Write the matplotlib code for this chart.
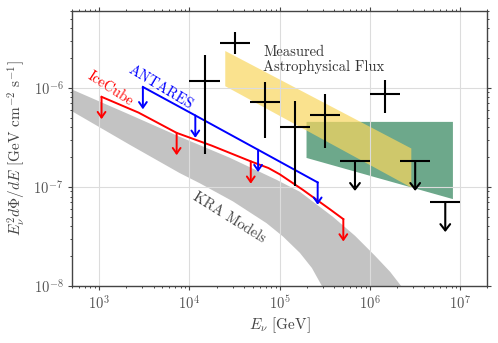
import numpy as np
import matplotlib
matplotlib.use('Agg')
import matplotlib.pyplot as plt

plt.rcParams.update({
    'font.family': 'serif',
    'font.serif': ['cmr10'],
    'mathtext.fontset': 'cm',
    'axes.formatter.use_mathtext': True,
    'axes.unicode_minus': False,
})

# ---- Measured astrophysical flux (binned) ----
meas_E    = [1.468e4, 3.162e4, 6.813e4, 1.468e5, 3.162e5, 1.468e6]
meas_Elo  = [1.0e4, 2.154e4, 4.642e4, 1.0e5, 2.154e5, 1.0e6]
meas_Ehi  = [2.154e4, 4.642e4, 1.0e5, 2.154e5, 4.642e5, 2.154e6]
meas_flux = [1.17e-6, 2.85e-6, 7.15e-7, 4.06e-7, 5.37e-7, 8.61e-7]
meas_lo   = [2.16e-7, 2.17e-6, 3.09e-7, 1.03e-7, 2.47e-7, 5.59e-7]
meas_hi   = [2.14e-6, 3.62e-6, 1.14e-6, 7.38e-7, 8.69e-7, 1.21e-6]

ul_E    = [6.813e5, 3.162e6, 6.813e6]
ul_Elo  = [4.642e5, 2.154e6, 4.642e6]
ul_Ehi  = [1.0e6, 4.642e6, 1.0e7]
ul_flux = [1.82e-7, 1.82e-7, 7.0e-8]

# ---- IceCube limit ----
ic_E    = [1062, 2729, 7211, 17620, 47750, 7.5e4, 1.0e5, 1.80e5, 3.6e5, 5.06e5]
ic_flux = [8.11e-7, 5.62e-7, 3.51e-7, 2.61e-7, 1.81e-7, 1.55e-7, 1.34e-7, 9.35e-8, 5.94e-8, 4.73e-8]
ic_arrow_idx = [0, 2, 4, 9]

# ---- ANTARES limit ----
an_E    = [3048, 11610, 57540, 2.63e5]
an_flux = [1.02e-6, 5.26e-7, 2.37e-7, 1.11e-7]

# ---- KRA models band ----
kra_up_E = [500, 2168, 7780, 27900, 92100, 1.67e5, 3.88e5, 6.82e5, 1.14e6, 1.67e6, 2.21e6, 2.78e6]
kra_up_F = [9.61e-7, 5.37e-7, 3.21e-7, 1.97e-7, 1.18e-7, 8.93e-8, 4.99e-8, 3.21e-8, 2.01e-8, 1.39e-8, 1.0e-8, 7.2e-9]
kra_lo_E = [500, 2168, 7780, 12970, 30400, 71300, 1.09e5, 1.67e5, 2.27e5, 2.93e5, 3.6e5]
kra_lo_F = [5.80e-7, 2.67e-7, 1.38e-7, 1.09e-7, 7.13e-8, 4.31e-8, 3.15e-8, 2.16e-8, 1.52e-8, 1.0e-8, 7.2e-9]

# ---- Yellow band (measured flux fit) ----
yel_E  = [2.46e4, 2.83e6]
yel_lo = [1.05e-6, 9.96e-8]
yel_hi = [2.38e-6, 2.47e-7]

# ---- Green region ----
grn_E = [1.98e5, 8.28e6, 8.28e6, 1.98e5]
grn_F = [4.53e-7, 4.53e-7, 7.53e-8, 1.96e-7]

fig = plt.figure(figsize=(4.98, 3.43), dpi=100)
ax = fig.add_axes([0.1446, 0.1662, 0.8343, 0.8026])
ax.set_xscale('log')
ax.set_yscale('log')
ax.set_xlim(5e2, 2e7)
ax.set_ylim(1e-8, 6e-6)

# bands
ax.fill(list(kra_up_E) + list(kra_lo_E[::-1]), list(kra_up_F) + list(kra_lo_F[::-1]),
        color='#c3c3c3', lw=0, zorder=1)
ax.fill(grn_E, grn_F, color='#6da88b', lw=0, zorder=1)
ax.fill_between(yel_E, yel_lo, yel_hi, color='#f9d75e', alpha=0.7, lw=0, zorder=1.1)

ax.set_axisbelow('line')
ax.grid(True, which='major', color='#dcdcdc', lw=0.8)
ax.grid(False, which='minor')

# measured points
ax.errorbar(meas_E, meas_flux,
            xerr=[np.subtract(meas_E, meas_Elo), np.subtract(meas_Ehi, meas_E)],
            yerr=[np.subtract(meas_flux, meas_lo), np.subtract(meas_hi, meas_flux)],
            fmt='none', ecolor='k', elinewidth=1.5, capsize=0, zorder=4)
ax.hlines(ul_flux, ul_Elo, ul_Ehi, color='k', lw=1.5, zorder=4)
for e, f in zip(ul_E, ul_flux):
    ax.annotate('', xy=(e, f * 0.5), xytext=(e, f),
                arrowprops=dict(arrowstyle='->,head_length=0.45,head_width=0.35',
                                color='k', lw=1.5, shrinkA=0, shrinkB=0), zorder=4)

# IceCube
ax.plot(ic_E, ic_flux, color='red', lw=1.4, zorder=3)
for i in ic_arrow_idx:
    ax.annotate('', xy=(ic_E[i], ic_flux[i] * 0.595), xytext=(ic_E[i], ic_flux[i]),
                arrowprops=dict(arrowstyle='->,head_length=0.4,head_width=0.28',
                                color='red', lw=1.4, shrinkA=0, shrinkB=0), zorder=3)

# ANTARES
ax.plot(an_E, an_flux, color='blue', lw=1.4, zorder=3)
for e, f in zip(an_E, an_flux):
    ax.annotate('', xy=(e, f * 0.595), xytext=(e, f),
                arrowprops=dict(arrowstyle='->,head_length=0.4,head_width=0.28',
                                color='blue', lw=1.4, shrinkA=0, shrinkB=0), zorder=3)

# labels
ax.text(1342, 9.79e-7, 'IceCube', color='red', fontsize=10.5, rotation=-33,
        ha='center', va='center', rotation_mode='anchor', zorder=5)
ax.text(4766, 1.02e-6, 'ANTARES', color='blue', fontsize=10.5, rotation=-31,
        ha='center', va='center', rotation_mode='anchor', zorder=5)
ax.text(27200, 4.88e-8, 'KRA Models', color='#444444', fontsize=10.5, rotation=-32,
        ha='center', va='center', rotation_mode='anchor', zorder=5)
ax.text(6.55e4, 2.67e-6, 'Measured\nAstrophysical Flux', color='#333333', fontsize=10.5,
        ha='left', va='top', linespacing=1.1, zorder=5)

ax.set_xlabel(r'$E_\nu$ [GeV]', fontsize=11, color='#444444', labelpad=2)
ax.set_ylabel(r'$E_\nu^2 d\Phi/dE$ [GeV cm$^{-2}$ s$^{-1}$]', fontsize=11,
              color='#444444', labelpad=4)

for sp in ax.spines.values():
    sp.set_color('#444444')
    sp.set_linewidth(1.0)
ax.tick_params(which='both', direction='out', top=True, right=True,
               colors='#444444', labelcolor='#555555', labelsize=10.5)
ax.tick_params(which='major', length=2.7, width=0.8)
ax.tick_params(which='minor', length=1.4, width=0.7)

fig.savefig('out.png', dpi=100)
